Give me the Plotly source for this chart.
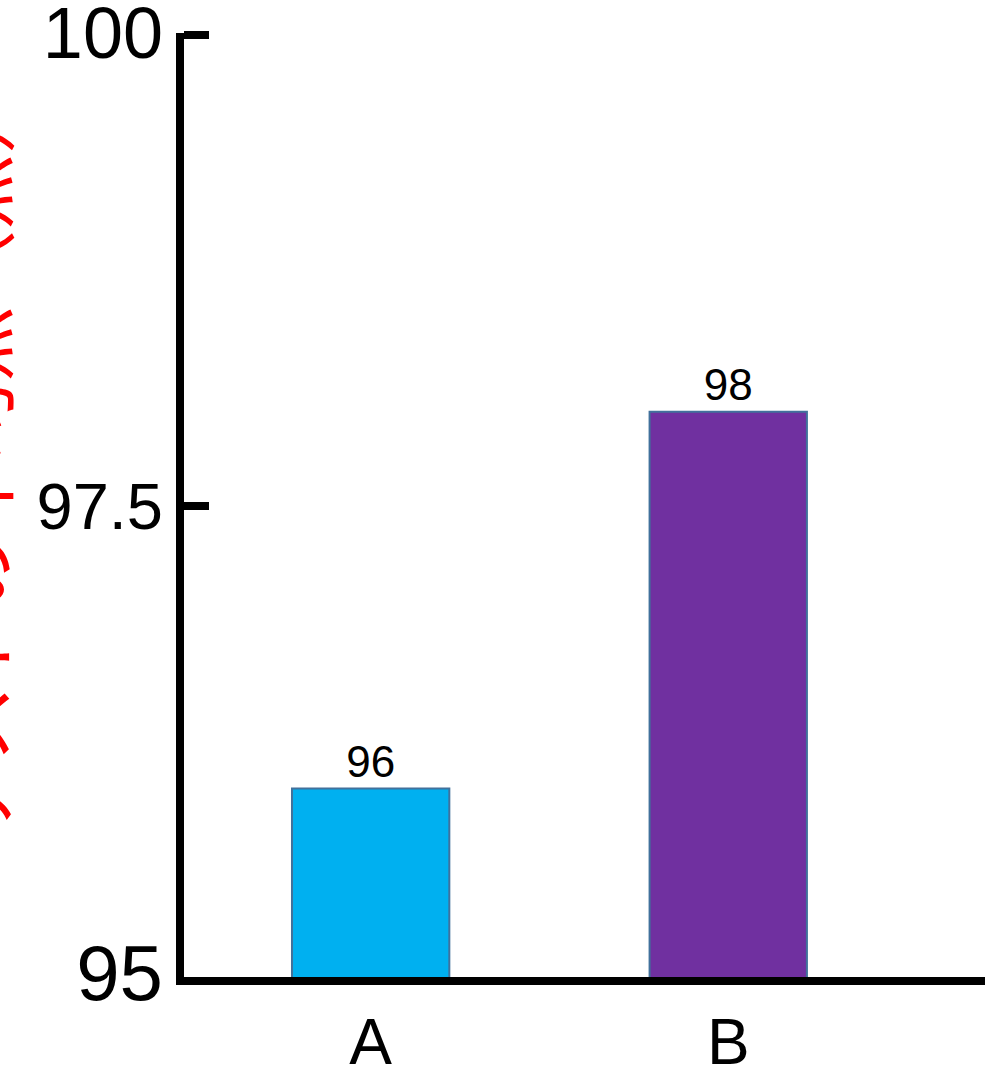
import plotly.graph_objects as go

categories = ["A", "B"]
values = [96, 98]
bar_colors = ["#00B0F0", "#7030A0"]
y_tick_vals = [95, 97.5, 100]
y_tick_text = ['<span style="font-size:78px">95</span>', "97.5", '<span style="font-size:72px">100</span>']
y_title = "テストの平均点（点）"

fig = go.Figure(
    go.Bar(
        x=categories,
        y=values,
        width=0.44,
        marker=dict(color=bar_colors, line=dict(color="#41719C", width=2)),
        text=[str(v) for v in values],
        textposition="outside",
        textfont=dict(size=44, color="black", family="Liberation Sans"),
        cliponaxis=False,
    )
)

fig.update_layout(
    width=995,
    height=1069,
    margin=dict(l=184, r=10, t=33, b=92, autoexpand=False),
    plot_bgcolor="white",
    paper_bgcolor="white",
    showlegend=False,
    font=dict(family="Liberation Sans", color="black"),
    xaxis=dict(
        type="category",
        range=[-0.522, 1.718],
        showline=True,
        linewidth=8,
        linecolor="black",
        ticks="",
        showgrid=False,
        automargin=False,
        tickfont=dict(size=64),
        ticklabelstandoff=2,
    ),
    yaxis=dict(
        range=[95, 100.01],
        tickvals=y_tick_vals,
        ticktext=y_tick_text,
        showline=True,
        linewidth=8,
        linecolor="black",
        ticks="inside",
        ticklen=25,
        tickwidth=8,
        tickcolor="black",
        showgrid=False,
        zeroline=False,
        automargin=False,
        ticklabeloverflow="allow",
        tickfont=dict(size=65),
    ),
    annotations=[
        dict(
            text=y_title,
            xref="paper",
            yref="paper",
            x=0,
            y=0.55,
            xshift=-210,
            xanchor="center",
            yanchor="middle",
            textangle=-90,
            showarrow=False,
            font=dict(size=76, color="red", family="Noto Sans CJK JP"),
        )
    ],
)

fig.write_html("out.html")
